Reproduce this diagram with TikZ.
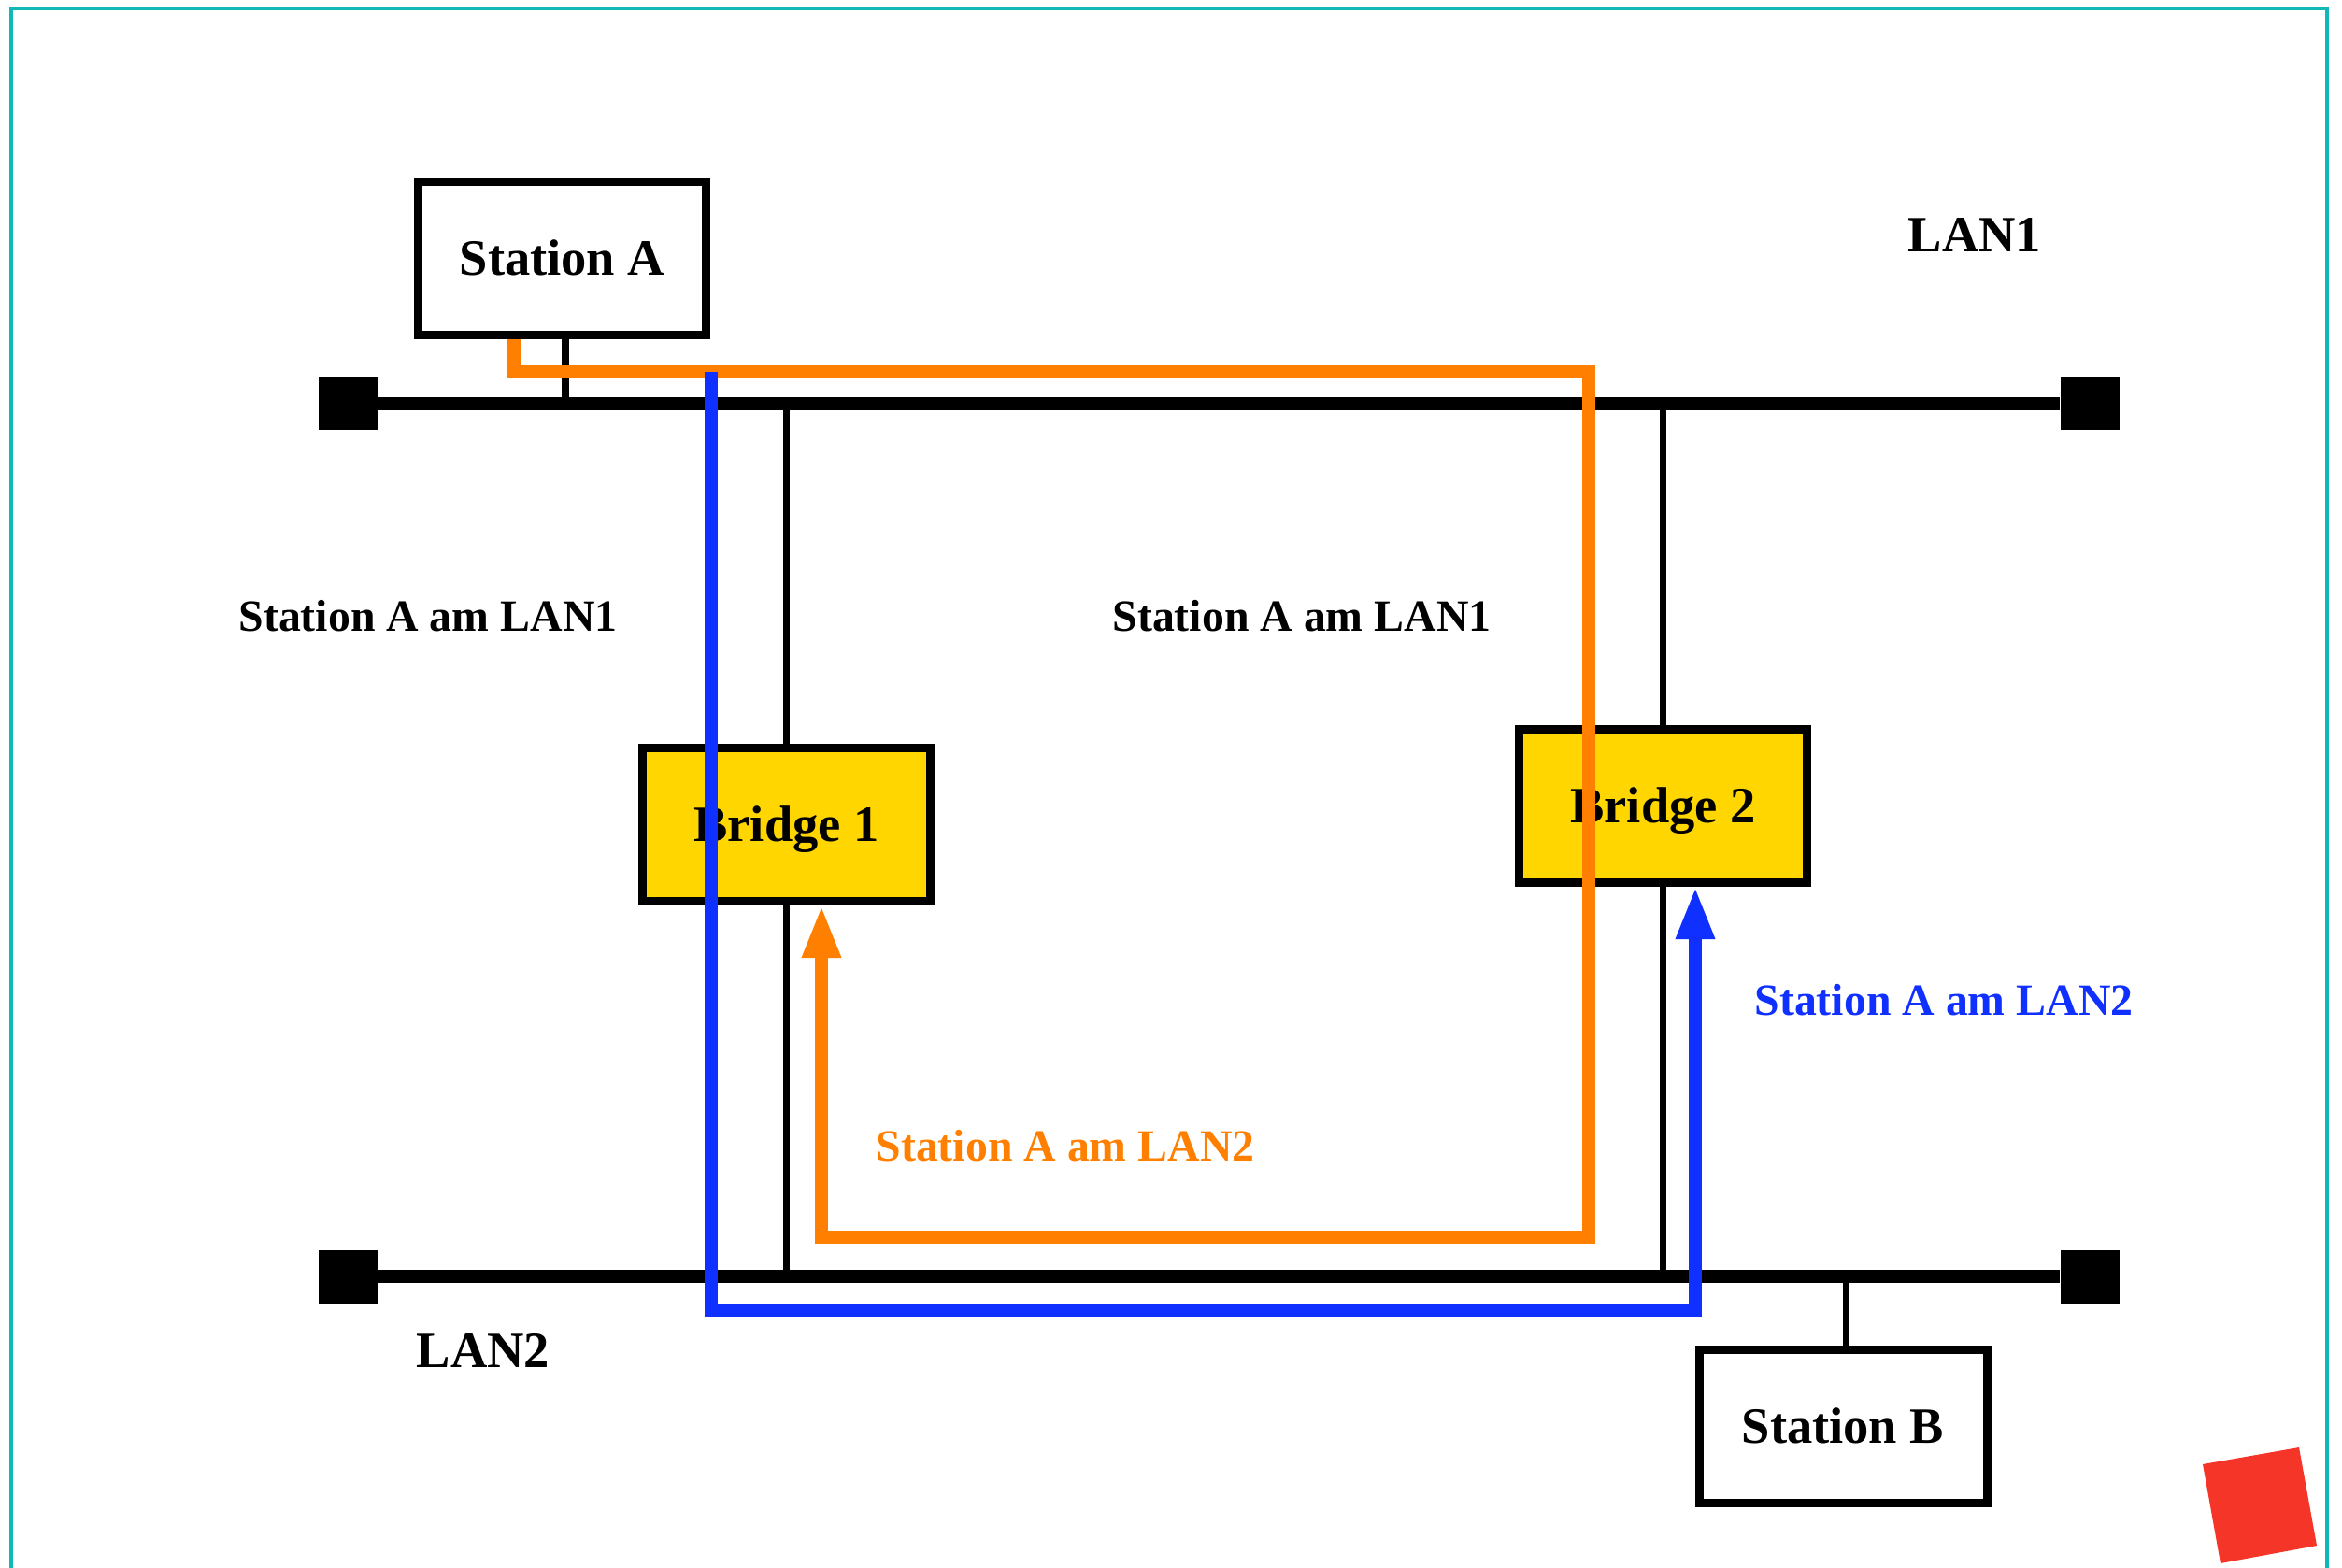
\documentclass[tikz,border=0pt]{standalone}
\usepackage{fontspec}
\setmainfont{Liberation Serif}
\usepackage{xcolor}
\usetikzlibrary{arrows.meta, calc}

\definecolor{frameCyan}{RGB}{16,184,184}
\definecolor{pathOrange}{RGB}{255,128,0}
\definecolor{pathBlue}{RGB}{16,48,255}
\definecolor{bridgeYellow}{RGB}{255,214,0}
\definecolor{markRed}{RGB}{245,53,40}

\begin{document}
\begin{tikzpicture}[
    box/.style={rectangle, draw, line width=2.56pt, minimum width=3.08cm, minimum height=1.64cm, inner sep=0pt, text height=0.36cm, text depth=0pt, font=\fontsize{15.5}{18}\selectfont\bfseries},
    bridge/.style={box, fill=bridgeYellow},
    station/.style={box, fill=white},
    term/.style={rectangle, fill=black, minimum width=0.63cm, minimum height=0.57cm, inner sep=0pt},
    bus/.style={line width=4pt},
    stub/.style={line width=2pt},
    route/.style={line width=3.8pt, -{Triangle[length=16pt, width=11pt]}},
    lanlabel/.style={font=\fontsize{15.5}{18}\selectfont\bfseries},
    seen/.style={font=\fontsize{13.6}{16}\selectfont\bfseries}
  ]
  \useasboundingbox (0,0) rectangle (25.06,-16.78);
  \draw[frameCyan, line width=1.4pt] (0.12,-16.78) -- (0.12,-0.09) -- (24.90,-0.09) -- (24.90,-16.78);

  \node[term] (t1l) at (3.72,-4.32) {};
  \node[term] (t1r) at (22.36,-4.32) {};
  \node[term] (t2l) at (3.72,-13.66) {};
  \node[term] (t2r) at (22.36,-13.66) {};
  \draw[bus] (t1l) -- (t1r);
  \draw[bus] (t2l) -- (t2r);

  \node[station] (staA) at (6.015,-2.77) {Station A};
  \node[bridge] (br1) at (8.415,-8.825) {Bridge 1};
  \node[bridge] (br2) at (17.795,-8.625) {Bridge 2};
  \node[station] (staB) at (19.72,-15.26) {Station B};

  \draw[stub] ([xshift=0.035cm]staA.south) -- ([xshift=0.035cm]staA.south |- t1l);
  \draw[stub] (br1.north) -- (br1.north |- t1l);
  \draw[stub] (br1.south) -- (br1.south |- t2l);
  \draw[stub] (br2.north) -- (br2.north |- t1l);
  \draw[stub] (br2.south) -- (br2.south |- t2l);
  \draw[stub] ([xshift=0.03cm]staB.north) -- ([xshift=0.03cm]staB.north |- t2l);

  \node[lanlabel] (lan1) at (21.13,-2.52) {LAN1};
  \node[lanlabel] (lan2) at (5.17,-14.45) {LAN2};
  \node[seen] (seenL) at (4.58,-6.59) {Station A am LAN1};
  \node[seen] (seenM) at (13.93,-6.59) {Station A am LAN1};
  \node[seen, text=pathOrange] (seenO) at (11.40,-12.26) {Station A am LAN2};
  \node[seen, text=pathBlue] (seenB) at (20.80,-10.70) {Station A am LAN2};

  \coordinate (oTR) at (17.00,-3.98);
  \coordinate (oBR) at (17.00,-13.24);
  \coordinate (bTL) at (7.61,-3.98);
  \coordinate (bBL) at (7.61,-14.02);
  \draw[route, pathOrange] ([xshift=-0.515cm]staA.south) |- (oTR) -- (oBR) -| ([xshift=0.375cm]br1.south);
  \draw[route, pathBlue] (bTL) -- (bBL) -| ([xshift=0.345cm]br2.south);

  \fill[markRed] (23.57,-15.67) -- (24.60,-15.49) -- (24.79,-16.54) -- (23.76,-16.73) -- cycle;
\end{tikzpicture}
\end{document}
